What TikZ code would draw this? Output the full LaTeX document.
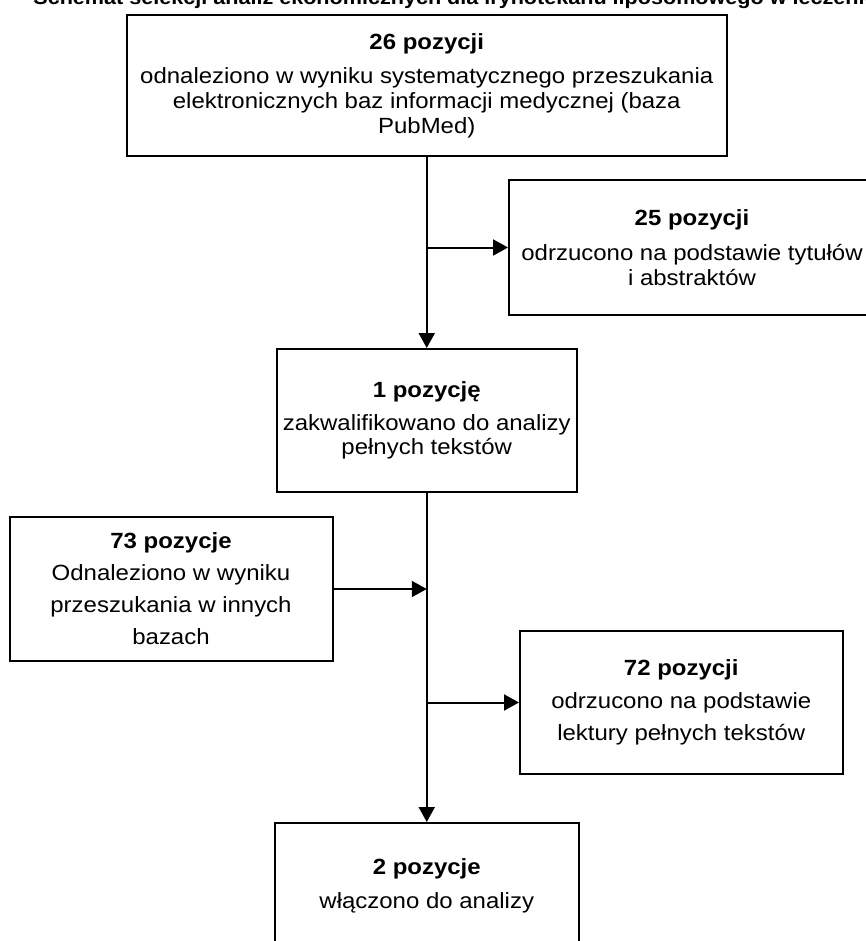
\documentclass[tikz,border=0pt]{standalone}
\usepackage{fontspec}
\setmainfont{Liberation Sans}[FakeStretch=1.09]
\usepackage{tikz}
\usetikzlibrary{arrows.meta,positioning}

\begin{document}
\begin{tikzpicture}[
  x=0.5pt, y=-0.5pt,
  flowbox/.style={draw, line width=1pt, inner sep=2pt, align=center,
                  font=\fontsize{11}{12.5}\selectfont},
  widebox/.style={flowbox, font=\fontsize{11}{16}\selectfont},
  arr/.style={-{Triangle[length=7.5pt,width=8pt]}, line width=1pt}
]
  \useasboundingbox (0,0) rectangle (866,941);
  \fill[white] (0,0) rectangle (866,941);
  \node[anchor=base west, inner sep=0pt, font=\bfseries\fontsize{9.9}{12}\selectfont] (title) at (33,5)
    {Schemat selekcji analiz ekonomicznych dla irynotekanu liposomowego w leczeniu};
  % main column
  \node[flowbox, minimum width=299.75pt, minimum height=70.5pt] (found) at (426.75,85.5)
    {\textbf{26 pozycji}\\[4.5pt]odnaleziono w wyniku systematycznego przeszukania\\elektronicznych baz informacji medycznej (baza\\PubMed)};
  \node[flowbox, font=\fontsize{11}{12}\selectfont, minimum width=150pt, minimum height=71.5pt,
        below=95.5pt of found] (qual)
    {\textbf{1 pozycję}\\[4.5pt]zakwalifikowano do analizy\\pełnych tekstów};
  \node[flowbox, minimum width=151.75pt, minimum height=62.5pt, below=164.5pt of qual] (incl)
    {\textbf{2 pozycje}\\[4.5pt]włączono do analizy};
  % side boxes
  \node[flowbox, minimum width=183pt, minimum height=67.5pt] (excl) at (692,247.5)
    {\textbf{25 pozycji}\\[5pt]odrzucono na podstawie tytułów\\i abstraktów};
  \node[widebox, minimum width=161.5pt, minimum height=72pt] (other) at (171,589)
    {\textbf{73 pozycje}\\Odnaleziono w wyniku\\przeszukania w innych\\bazach};
  \node[widebox, minimum width=161.25pt, minimum height=71.5pt] (rej) at (681.25,702.5)
    {\textbf{72 pozycji}\\[0.5pt]odrzucono na podstawie\\lektury pełnych tekstów};
  \draw[arr] (found) -- (qual);
  \draw[arr] (excl.west -| found.south) -- (excl.west);
  \draw[arr] (qual) -- (incl);
  \draw[arr] (other.east) -- (other.east -| qual.south);
  \draw[arr] (rej.west -| qual.south) -- (rej.west);
\end{tikzpicture}
\end{document}
